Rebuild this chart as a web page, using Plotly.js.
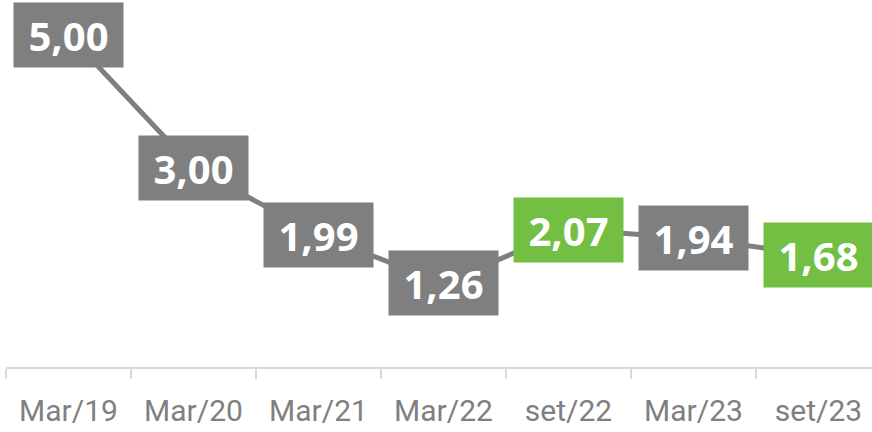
<!DOCTYPE html>
<html>
<head>
<meta charset="utf-8">
<script src="https://cdn.plot.ly/plotly-3.0.1.min.js"></script>
<style>html,body{margin:0;padding:0;background:#fff;}#chart{width:872px;height:432px;}</style>
</head>
<body>
<div id="chart"></div>
<script>
var categories = ["Mar/19", "Mar/20", "Mar/21", "Mar/22", "set/22", "Mar/23", "set/23"];
var values = [5.00, 3.00, 1.99, 1.26, 2.07, 1.94, 1.68];
var highlighted = [false, false, false, false, true, false, true];

var GRAY = "#7f7f7f";
var GREEN = "#72bf44";

var trace = {
  type: "scatter",
  mode: "lines",
  x: categories,
  y: values,
  line: {color: GRAY, width: 5},
  hoverinfo: "skip"
};

var annotations = categories.map(function (c, i) {
  return {
    x: c, y: values[i], xref: "x", yref: "y",
    text: "<b>" + values[i].toFixed(2).replace(".", ",") + "</b>",
    showarrow: false,
    font: {family: "Open Sans", size: 40, color: "#ffffff"},
    bgcolor: highlighted[i] ? GREEN : GRAY,
    width: 109, height: 64, borderpad: 0,
    xanchor: "center", yanchor: "middle", align: "center", valign: "middle"
  };
});

var layout = {
  width: 872, height: 432,
  margin: {l: 6, r: 0, t: 0, b: 65},
  paper_bgcolor: "#ffffff", plot_bgcolor: "#ffffff",
  showlegend: false,
  xaxis: {
    type: "category",
    range: [-0.5, 6.428],
    tickson: "boundaries",
    ticks: "outside", ticklen: 10, tickwidth: 2, tickcolor: "#d9d9d9",
    showline: true, linecolor: "#d9d9d9", linewidth: 2,
    showgrid: false, zeroline: false,
    tickfont: {family: "Roboto", size: 30, color: "#808080"},
    ticklabelstandoff: 16,
    fixedrange: true
  },
  yaxis: {
    range: [0, 5.526],
    visible: false, showgrid: false, zeroline: false,
    fixedrange: true
  },
  annotations: annotations
};

Plotly.newPlot("chart", [trace], layout, {displayModeBar: false, staticPlot: true});
</script>
</body>
</html>
